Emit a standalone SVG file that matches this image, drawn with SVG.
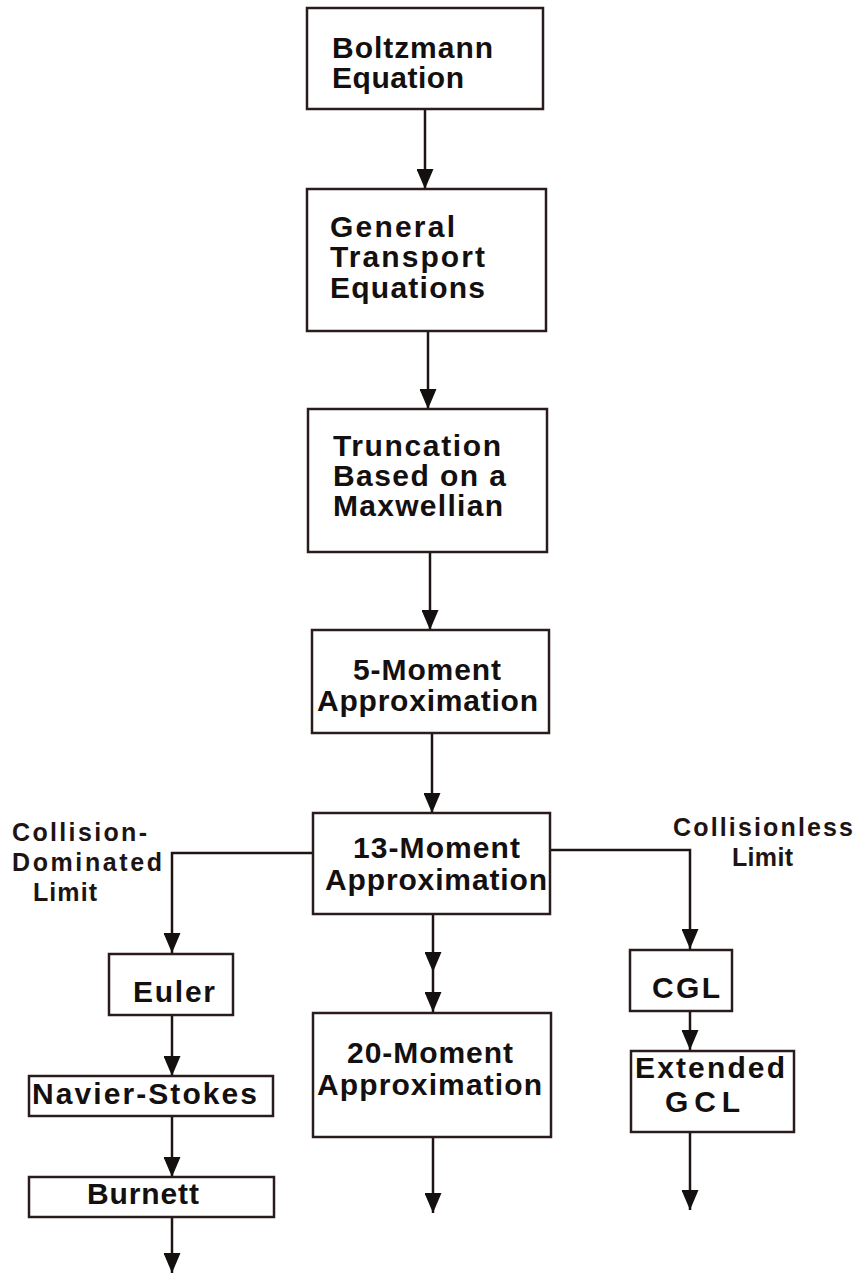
<svg xmlns="http://www.w3.org/2000/svg" width="865" height="1279" viewBox="0 0 865 1279">
<style>
.bx{fill:none;stroke:#2a1c1c;stroke-width:2.5}
.t{font-family:"Liberation Sans",Arial,Helvetica,sans-serif;font-weight:bold;font-size:30px;fill:#141010}
.lb{font-family:"Liberation Sans",Arial,Helvetica,sans-serif;font-weight:bold;font-size:25px;fill:#1e1414}
.c{fill:none;stroke:#1e1414;stroke-width:2.5}
</style>
<defs>
<marker id="ah" markerUnits="userSpaceOnUse" markerWidth="20" markerHeight="17" refX="20" refY="8.5" orient="auto" viewBox="0 0 20 17">
<path d="M0,0 L20,8.5 L0,17 z" fill="#141010"/>
</marker>
</defs>
<rect width="865" height="1279" fill="#ffffff"/>
<g id="connectors">
<path class="c" d="M425,109 V189" marker-end="url(#ah)"/>
<path class="c" d="M428,331 V409" marker-end="url(#ah)"/>
<path class="c" d="M430,552 V630" marker-end="url(#ah)"/>
<path class="c" d="M432,733 V813" marker-end="url(#ah)"/>
<path class="c" d="M313,853 H172 V953" marker-end="url(#ah)"/>
<path class="c" d="M550,850 H690 V949" marker-end="url(#ah)"/>
<path class="c" d="M433,914 L433,972 L433,1012" marker-mid="url(#ah)" marker-end="url(#ah)"/>
<path class="c" d="M172,1015 V1076" marker-end="url(#ah)"/>
<path class="c" d="M172,1116 V1177" marker-end="url(#ah)"/>
<path class="c" d="M172,1217 V1273" marker-end="url(#ah)"/>
<path class="c" d="M690,1011 V1050" marker-end="url(#ah)"/>
<path class="c" d="M690,1132 V1210" marker-end="url(#ah)"/>
<path class="c" d="M433,1137 V1213" marker-end="url(#ah)"/>
</g>
<g id="boltzmann">
<rect class="bx" x="307" y="8" width="236" height="101"/>
<text class="t" x="332" y="58" textLength="161" lengthAdjust="spacing">Boltzmann</text>
<text class="t" x="332" y="88" textLength="132" lengthAdjust="spacing">Equation</text>
</g>
<g id="general">
<rect class="bx" x="307" y="189" width="239" height="142"/>
<text class="t" x="330" y="237" textLength="125" lengthAdjust="spacing">General</text>
<text class="t" x="330" y="267" textLength="155" lengthAdjust="spacing">Transport</text>
<text class="t" x="330" y="298" textLength="155" lengthAdjust="spacing">Equations</text>
</g>
<g id="truncation">
<rect class="bx" x="308" y="409" width="239" height="143"/>
<text class="t" x="333" y="456" textLength="168" lengthAdjust="spacing">Truncation</text>
<text class="t" x="333" y="486" textLength="173" lengthAdjust="spacing">Based on a</text>
<text class="t" x="333" y="516" textLength="170" lengthAdjust="spacing">Maxwellian</text>
</g>
<g id="moment5">
<rect class="bx" x="312" y="630" width="237" height="103"/>
<text class="t" x="353" y="680" textLength="148" lengthAdjust="spacing">5-Moment</text>
<text class="t" x="317" y="711" textLength="221" lengthAdjust="spacing">Approximation</text>
</g>
<g id="moment13">
<rect class="bx" x="313" y="813" width="237" height="101"/>
<text class="t" x="353" y="858" textLength="167" lengthAdjust="spacing">13-Moment</text>
<text class="t" x="325" y="890" textLength="222" lengthAdjust="spacing">Approximation</text>
</g>
<g id="label-collision-dominated">
<text class="lb" x="12" y="841" textLength="135" lengthAdjust="spacing">Collision-</text>
<text class="lb" x="12" y="871" textLength="150" lengthAdjust="spacing">Dominated</text>
<text class="lb" x="33" y="901" textLength="64" lengthAdjust="spacing">Limit</text>
</g>
<g id="label-collisionless">
<text class="lb" x="673" y="836" textLength="180" lengthAdjust="spacing">Collisionless</text>
<text class="lb" x="732" y="866" textLength="61" lengthAdjust="spacing">Limit</text>
</g>
<g id="euler">
<rect class="bx" x="109" y="954" width="124" height="61"/>
<text class="t" x="133" y="1002" textLength="82" lengthAdjust="spacing">Euler</text>
</g>
<g id="navier-stokes">
<rect class="bx" x="29" y="1076" width="244" height="40"/>
<text class="t" x="32" y="1104" textLength="225" lengthAdjust="spacing">Navier-Stokes</text>
</g>
<g id="burnett">
<rect class="bx" x="29" y="1177" width="245" height="40"/>
<text class="t" x="87" y="1204" textLength="112" lengthAdjust="spacing">Burnett</text>
</g>
<g id="moment20">
<rect class="bx" x="313" y="1013" width="238" height="124"/>
<text class="t" x="347" y="1063" textLength="166" lengthAdjust="spacing">20-Moment</text>
<text class="t" x="317" y="1095" textLength="225" lengthAdjust="spacing">Approximation</text>
</g>
<g id="cgl">
<rect class="bx" x="630" y="950" width="102" height="61"/>
<text class="t" x="652" y="998" textLength="68" lengthAdjust="spacing">CGL</text>
</g>
<g id="extended-gcl">
<rect class="bx" x="631" y="1051" width="163" height="81"/>
<text class="t" x="635" y="1078" textLength="150" lengthAdjust="spacing">Extended</text>
<text class="t" x="665" y="1112" textLength="75" lengthAdjust="spacing">GCL</text>
</g>
</svg>
